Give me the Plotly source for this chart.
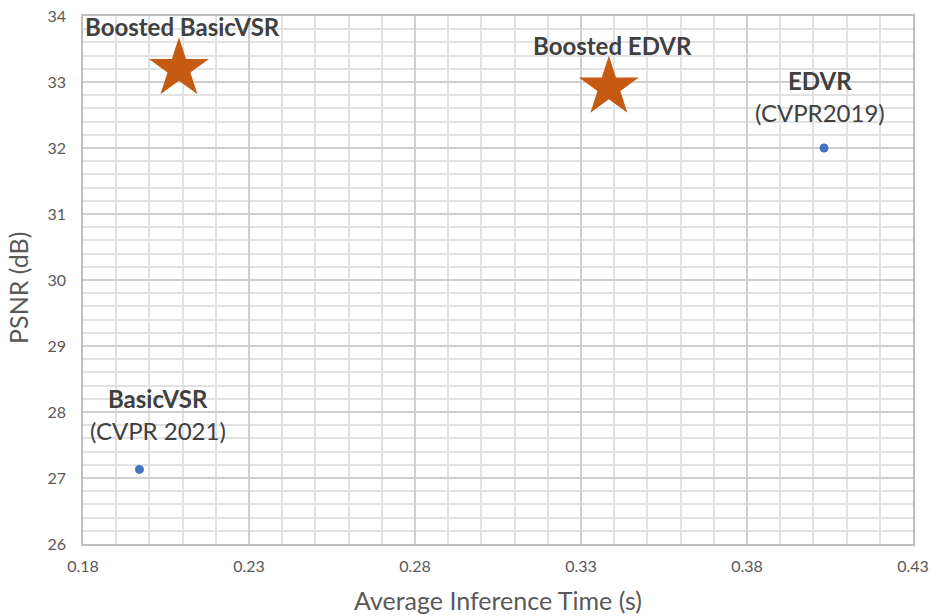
import plotly.graph_objects as go

# Data
base_names = ["BasicVSR", "EDVR"]
base_venues = ["(CVPR 2021)", "(CVPR2019)"]
base_time = [0.197, 0.4032]
base_psnr = [27.13, 32.0]

boost_names = ["Boosted BasicVSR", "Boosted EDVR"]
boost_time = [0.2089, 0.3384]
boost_psnr = [33.2, 32.92]

x_ticks = [0.18, 0.23, 0.28, 0.33, 0.38, 0.43]
y_ticks = [26, 27, 28, 29, 30, 31, 32, 33, 34]

FONT = "Lato"
TXT = "#404040"
AX = "#595959"

fig = go.Figure()
fig.add_trace(go.Scatter(x=base_time, y=base_psnr, mode="markers",
                         marker=dict(color="#4472C4", size=9), hoverinfo="skip"))
fig.add_trace(go.Scatter(x=boost_time, y=boost_psnr, mode="markers",
                         marker=dict(color="#C55A11", size=45, symbol="star",
                                     line=dict(width=0)), hoverinfo="skip"))

# labels for base methods (two lines)
offsets_base = [(19, 71, 39), (-4, 68, 36)]
for n, v, x, y, (xs, y1, y2) in zip(base_names, base_venues, base_time, base_psnr, offsets_base):
    fig.add_annotation(x=x, y=y, text="<b>%s</b>" % n, showarrow=False,
                       xshift=xs, yshift=y1, font=dict(family=FONT, size=24, color=TXT))
    fig.add_annotation(x=x, y=y, text=v, showarrow=False,
                       xshift=xs, yshift=y2, font=dict(family=FONT, size=24, color=TXT))

for n, x, y in zip(boost_names, boost_time, boost_psnr):
    fig.add_annotation(x=x, y=y, text="<b>%s</b>" % n, showarrow=False,
                       xshift=4, yshift=42, font=dict(family=FONT, size=24, color=TXT))

# axis titles
fig.add_annotation(xref="paper", yref="paper", x=0.5, y=-0.107, text="Average Inference Time (s)",
                   showarrow=False, xanchor="center", yanchor="middle",
                   font=dict(family=FONT, size=25, color=AX))
fig.add_annotation(xref="paper", yref="paper", x=-0.0783, y=0.485, text="PSNR (dB)",
                   showarrow=False, xanchor="center", yanchor="middle", textangle=-90,
                   font=dict(family=FONT, size=25, color=AX))

fig.update_xaxes(range=[0.18, 0.43], tickvals=x_ticks, ticktext=["%.2f" % t for t in x_ticks],
                 showgrid=True, gridcolor="#cfcfcf", gridwidth=1.5,
                 minor=dict(dtick=0.01, tick0=0.18, showgrid=True, gridcolor="#e2e2e2", gridwidth=1.5),
                 showline=True, linecolor="#bfbfbf", linewidth=1.5, mirror=True, automargin=False,
                 zeroline=False, ticks="", ticklabelstandoff=7,
                 tickfont=dict(family=FONT, size=16, color=AX))
fig.update_yaxes(range=[26, 34], tickvals=y_ticks,
                 showgrid=True, gridcolor="#cfcfcf", gridwidth=1.5,
                 minor=dict(dtick=0.2, tick0=26, showgrid=True, gridcolor="#e2e2e2", gridwidth=1.5),
                 showline=True, linecolor="#bfbfbf", linewidth=1.5, mirror=True, automargin=False,
                 zeroline=False, ticks="", ticklabelstandoff=12,
                 tickfont=dict(family=FONT, size=16, color=AX))

fig.update_layout(width=930, height=616, showlegend=False,
                  plot_bgcolor="white", paper_bgcolor="white",
                  margin=dict(l=83, r=17, t=16, b=72))
# remove the default page margin so the figure sits at the window's corner
fig.write_html("out.html", config={"displayModeBar": False},
               post_script="document.body.style.margin='0';")
